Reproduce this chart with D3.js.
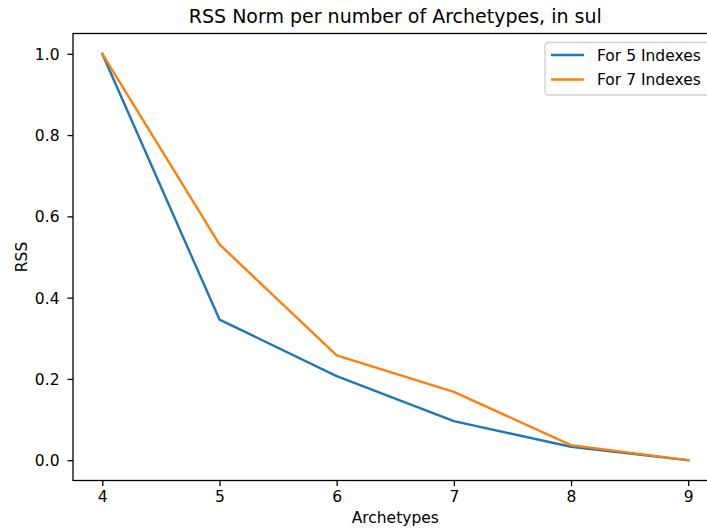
<!DOCTYPE html>
<html>
<head>
<meta charset="utf-8">
<script src="https://cdn.jsdelivr.net/npm/d3@7"></script>
<style>
  html, body { margin: 0; padding: 0; background: #fff; }
  svg { display: block; font-family: "DejaVu Sans", sans-serif; }
</style>
</head>
<body>
<svg id="chart" width="707" height="531"></svg>
<script>
// Number of archetypes on the x axis
const archetypes = [4, 5, 6, 7, 8, 9];
// Normalised RSS for each index set
const rss5 = [1.0, 0.346, 0.207, 0.096, 0.033, 0.0];
const rss7 = [1.0, 0.531, 0.258, 0.168, 0.037, 0.0];
const seriesNames = ["For 5 Indexes", "For 7 Indexes"];
const seriesColors = ["#1f77b4", "#ff7f0e"];
const yTicks = [0.0, 0.2, 0.4, 0.6, 0.8, 1.0];

const svg = d3.select("#chart");
const plotLeft = 73, plotRight = 717.5, plotTop = 33.5, plotBottom = 480.5;

const x = d3.scaleLinear().domain([3.75, 9.25]).range([plotLeft, plotRight]);
const y = d3.scaleLinear().domain([-0.05, 1.05]).range([plotBottom, plotTop]);

// Title
svg.append("text")
  .attr("x", (plotLeft + plotRight) / 2).attr("y", 23)
  .attr("text-anchor", "middle")
  .attr("font-size", 19).attr("fill", "#000")
  .text("RSS Norm per number of Archetypes, in sul");

// Axes
const xAxis = d3.axisBottom(x).tickValues(archetypes).tickFormat(d3.format("d")).tickSize(5.5);
const gx = svg.append("g").attr("transform", `translate(0,${plotBottom})`).call(xAxis);
gx.select(".domain").remove();
gx.selectAll(".tick line").attr("stroke", "#000").attr("stroke-width", 1.3);
gx.selectAll(".tick text").attr("dy", null).attr("y", 21.5)
  .attr("font-size", 15.5).attr("font-family", "DejaVu Sans").attr("fill", "#000");

const yAxis = d3.axisLeft(y).tickValues(yTicks).tickFormat(d3.format(".1f")).tickSize(5.5);
const gy = svg.append("g").attr("transform", `translate(${plotLeft},0)`).call(yAxis);
gy.select(".domain").remove();
gy.selectAll(".tick line").attr("stroke", "#000").attr("stroke-width", 1.3);
gy.selectAll(".tick text").attr("x", -13.5).attr("dy", "0.36em")
  .attr("font-size", 15.5).attr("font-family", "DejaVu Sans").attr("fill", "#000");

// Axis labels
svg.append("text")
  .attr("x", (plotLeft + plotRight) / 2).attr("y", 523)
  .attr("text-anchor", "middle").attr("font-size", 15.5).attr("fill", "#000")
  .text("Archetypes");
svg.append("text")
  .attr("transform", `translate(27,${(plotTop + plotBottom) / 2}) rotate(-90)`)
  .attr("text-anchor", "middle").attr("font-size", 15.5).attr("fill", "#000")
  .text("RSS");

// Lines
const line = d3.line().x(d => x(d[0])).y(d => y(d[1]));
[rss5, rss7].forEach((vals, i) => {
  svg.append("path")
    .datum(archetypes.map((a, j) => [a, vals[j]]))
    .attr("d", line)
    .attr("fill", "none")
    .attr("stroke", seriesColors[i])
    .attr("stroke-width", 2.4)
    .attr("stroke-linejoin", "round")
    .attr("stroke-linecap", "square");
});

// Spines
svg.append("rect")
  .attr("x", plotLeft).attr("y", plotTop)
  .attr("width", plotRight - plotLeft).attr("height", plotBottom - plotTop)
  .attr("fill", "none").attr("stroke", "#000").attr("stroke-width", 1.3);

// Legend
const lg = svg.append("g");
lg.append("rect")
  .attr("x", 545).attr("y", 42.5).attr("width", 175).attr("height", 52.5)
  .attr("rx", 3.5).attr("fill", "#fff").attr("fill-opacity", 0.8)
  .attr("stroke", "#d0d0d0").attr("stroke-width", 1.3);
seriesNames.forEach((name, i) => {
  const cy = 55 + i * 24.5;
  lg.append("line")
    .attr("x1", 551).attr("x2", 584).attr("y1", cy).attr("y2", cy)
    .attr("stroke", seriesColors[i]).attr("stroke-width", 2.4);
  lg.append("text")
    .attr("x", 597).attr("y", cy).attr("dy", "0.36em")
    .attr("font-size", 15.5).attr("fill", "#000")
    .text(name);
});
</script>
</body>
</html>
